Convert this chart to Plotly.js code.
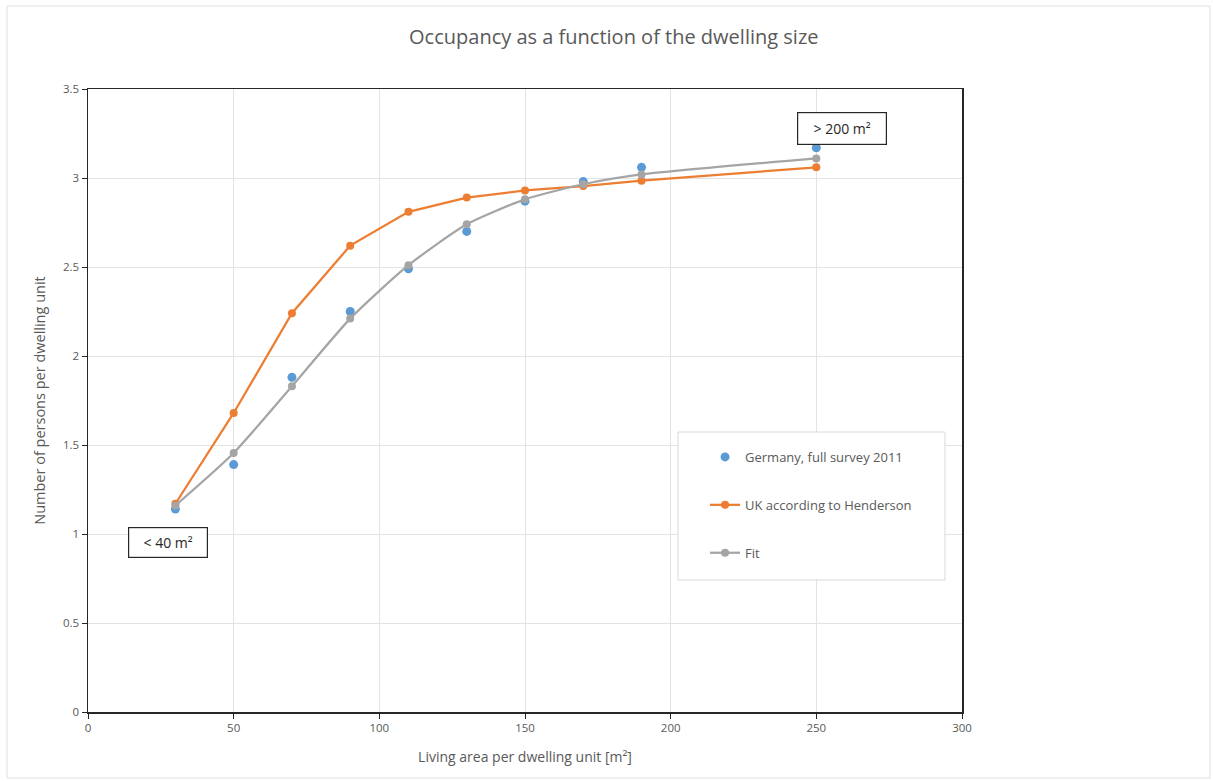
<!DOCTYPE html>
<html><head><meta charset="utf-8">
<script src="https://cdn.plot.ly/plotly-3.0.1.min.js"></script>
<style>html,body{margin:0;padding:0;background:#fff}#chart{width:1213px;height:781px}</style>
</head><body><div id="chart"></div>
<script>
const area = [30, 50, 70, 90, 110, 130, 150, 170, 190, 250];
const germany = [1.14, 1.39, 1.88, 2.25, 2.49, 2.70, 2.87, 2.98, 3.06, 3.17];
const uk = [1.17, 1.68, 2.24, 2.62, 2.81, 2.89, 2.93, 2.955, 2.985, 3.06];
const fit = [1.16, 1.455, 1.83, 2.21, 2.51, 2.74, 2.88, 2.965, 3.02, 3.11];
const xTicks = [0, 50, 100, 150, 200, 250, 300];
const yTicks = [0, 0.5, 1, 1.5, 2, 2.5, 3, 3.5];

const font = 'Open Sans, Noto Sans, sans-serif';
const traces = [
  {x: area, y: germany, name: 'Germany, full survey 2011', mode: 'markers', type: 'scatter',
   marker: {color: '#5b9bd5', size: 9}, legendgroup: 'a'},
  {x: area, y: uk, name: 'UK according to Henderson', mode: 'lines+markers', type: 'scatter',
   line: {color: '#ed7d31', width: 2.25}, marker: {color: '#ed7d31', size: 8}, legendgroup: 'b'},
  {x: area, y: fit, name: 'Fit', mode: 'lines+markers', type: 'scatter',
   line: {color: '#a5a5a5', width: 2.25, shape: 'spline', smoothing: 0.6}, marker: {color: '#a5a5a5', size: 8}, legendgroup: 'c'}
];
const layout = {
  width: 1213, height: 781,
  margin: {l: 88, r: 251, t: 89, b: 69},
  paper_bgcolor: '#fff', plot_bgcolor: '#fff',
  font: {family: font, color: '#595959', size: 11},
  title: {text: 'Occupancy as a function of the dwelling size', xref: 'container', x: 0.506, xanchor: 'center',
          yref: 'container', y: 0.953, yanchor: 'middle', font: {size: 20, color: '#595959', family: font}},
  xaxis: {range: [0, 300], tickvals: xTicks, ticktext: xTicks.map(String), showgrid: true, gridcolor: '#e3e3e3',
          zeroline: false, showline: true, linecolor: '#262626', linewidth: 1.5, mirror: true,
          ticks: 'outside', ticklen: 5, tickcolor: '#262626',
          title: {text: 'Living area per dwelling unit [m²]', font: {size: 14, color: '#595959'}, standoff: 18},
          tickfont: {size: 11.5, color: '#595959'}},
  yaxis: {range: [0, 3.5], tickvals: yTicks, ticktext: yTicks.map(String), showgrid: true, gridcolor: '#e3e3e3',
          zeroline: false, showline: true, linecolor: '#262626', linewidth: 1.5, mirror: true,
          ticks: 'outside', ticklen: 5, tickcolor: '#262626',
          title: {text: 'Number of persons per dwelling unit', font: {size: 14.5, color: '#595959'}, standoff: 14},
          tickfont: {size: 11.5, color: '#595959'}},
  legend: {x: 0.706, y: 0.4334, xanchor: 'left', yanchor: 'top', bgcolor: 'rgba(0,0,0,0)', borderwidth: 0,
           font: {size: 13, color: '#595959'}, traceorder: 'grouped', tracegroupgap: 28, itemwidth: 30},
  annotations: [
    {x: 30, y: 1.039, xref: 'x', yref: 'y', text: '< 40 m²', showarrow: false, xanchor: 'center', yanchor: 'top',
     bordercolor: '#262626', borderwidth: 1.2, borderpad: 5, bgcolor: '#fff', width: 68, font: {size: 14, color: '#262626'}, xshift: -7},
    {x: 250, y: 3.185, xref: 'x', yref: 'y', text: '> 200 m²', showarrow: false, xanchor: 'center', yanchor: 'bottom',
     bordercolor: '#262626', borderwidth: 1.2, borderpad: 6, bgcolor: '#fff', width: 76, font: {size: 14, color: '#262626'}, xshift: 26}
  ],
  shapes: [
    {type: 'rect', xref: 'paper', yref: 'paper', x0: -0.0927, x1: 1.2838, y0: -0.106, y1: 1.1332,
     line: {color: '#e0e0e0', width: 1}, layer: 'below'},
    {type: 'rect', xref: 'paper', yref: 'paper', x0: 0.675, x1: 0.9805, y0: 0.2119, y1: 0.4494,
     line: {color: '#d9d9d9', width: 1}, fillcolor: '#fff', layer: 'above'}
  ],
  showlegend: true
};
Plotly.newPlot('chart', traces, layout, {displayModeBar: false, staticPlot: true});
</script></body></html>
